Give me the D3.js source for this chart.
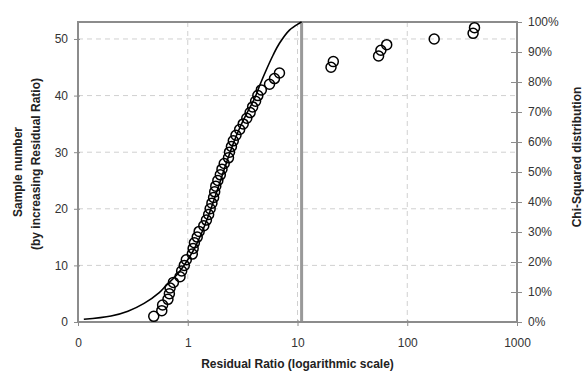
<!DOCTYPE html>
<html><head><meta charset="utf-8">
<script src="https://cdn.jsdelivr.net/npm/d3@7"></script>
<style>
body{margin:0;background:#fff;}
text{font-family:"Liberation Sans",Arial,sans-serif;}
</style></head>
<body><svg id="c" width="584" height="376"></svg>
<script>
// Sample number (by increasing residual ratio)
const sampleNumbers = d3.range(1, 53);
// Residual ratio of each sample
const residualRatios = [0.49,0.58,0.59,0.66,0.68,0.69,0.74,0.85,0.88,0.93,
  0.97,1.10,1.12,1.15,1.22,1.27,1.40,1.48,1.55,1.60,
  1.66,1.72,1.76,1.80,1.88,1.98,2.05,2.15,2.35,2.40,
  2.50,2.60,2.75,2.97,3.20,3.45,3.70,3.90,4.15,4.35,
  4.68,5.56,6.17,6.85,20.2,21.2,54.8,57.5,65,176,398,410];
// Chi-squared distribution curve (x, cumulative %)
const curveX = [0.113,0.20,0.285,0.40,0.55,0.64,0.80,0.95,1.15,1.35,1.6,1.9,2.2,2.6,3.0,3.5,4.06,4.6,5.19,6.0,6.85,8.45,10.4,10.9];
const curveP = [0.9,2.0,3.6,6.2,9.8,12.3,15.8,19.5,24.5,30,37,45,52,59.5,65,70,74.5,79.5,84,89,92.9,97.3,99.6,100];
const cutoff = [10.9];
const xTicks = [0.1,1,10,100,1000];
const xTickLabels = ["0","1","10","100","1000"];
const yTicks = [0,10,20,30,40,50];
const pTicks = [0,10,20,30,40,50,60,70,80,90,100];

const svg = d3.select("#c");
const L=78,R=517,T=22,B=322;
const x = d3.scaleLog().domain([0.1,1000]).range([L,R]);
const y = d3.scaleLinear().domain([0,53]).range([B,T]);
const yp = d3.scaleLinear().domain([0,100]).range([B,T]);

// grid
const g = svg.append("g");
g.selectAll(".hg").data(yTicks.filter(d=>d>0)).enter().append("line")
 .attr("x1",L).attr("x2",R).attr("y1",d=>y(d)).attr("y2",d=>y(d))
 .attr("stroke","#d0d0d0").attr("stroke-dasharray","5,4");
g.selectAll(".vg").data([1,10,100]).enter().append("line")
 .attr("y1",T).attr("y2",B).attr("x1",d=>x(d)).attr("x2",d=>x(d))
 .attr("stroke","#d0d0d0").attr("stroke-dasharray","5,4");

// cutoff line
svg.selectAll(".cut").data(cutoff).enter().append("line")
 .attr("x1",d=>x(d)).attr("x2",d=>x(d)).attr("y1",T).attr("y2",B)
 .attr("stroke","#999").attr("stroke-width",3);

// frame
svg.append("rect").attr("x",L).attr("y",T).attr("width",R-L).attr("height",B-T)
 .attr("fill","none").attr("stroke","#8c8c8c").attr("stroke-width",2);

// axes
const ax = d3.axisBottom(x).tickValues(xTicks).tickFormat((d,i)=>xTickLabels[i]).tickSize(4).tickSizeOuter(0);
const axG = svg.append("g").attr("transform",`translate(0,${B})`).call(ax);
const ayG = svg.append("g").attr("transform",`translate(${L},0)`).call(d3.axisLeft(y).tickValues(yTicks).tickSize(4).tickSizeOuter(0));
const apG = svg.append("g").attr("transform",`translate(${R},0)`).call(d3.axisRight(yp).tickValues(pTicks).tickFormat(d=>d+"%").tickSize(4).tickSizeOuter(0));
[axG,ayG,apG].forEach(a=>{
  a.select(".domain").remove();
  a.selectAll("text").attr("font-size",12).attr("fill","#333").attr("font-family","Liberation Sans, Arial, sans-serif");
  a.selectAll(".tick line").attr("stroke","#8c8c8c");
});
axG.selectAll(".tick line").attr("y1",-2).attr("y2",4);
axG.selectAll("text").attr("y",16);
ayG.selectAll(".tick line").attr("x1",2).attr("x2",-4);
ayG.selectAll("text").attr("x",-10);
apG.selectAll(".tick line").attr("x1",-6).attr("x2",5);
apG.selectAll("text").attr("x",11);

// curve
const pts = curveX.map((d,i)=>[d,curveP[i]]);
svg.append("path").datum(pts)
 .attr("d",d3.line().x(d=>x(d[0])).y(d=>yp(d[1])).curve(d3.curveCatmullRom.alpha(0.5)))
 .attr("fill","none").attr("stroke","#000").attr("stroke-width",1.6);

// points
svg.selectAll(".pt").data(sampleNumbers).enter().append("circle")
 .attr("cx",(d,i)=>x(residualRatios[i])).attr("cy",d=>y(d)).attr("r",5)
 .attr("fill","none").attr("stroke","#000").attr("stroke-width",1.5);

// titles
svg.append("text").attr("x",(L+R)/2).attr("y",368).attr("text-anchor","middle")
 .attr("font-size",12).attr("font-weight","bold").attr("fill","#222").text("Residual Ratio (logarithmic scale)");
svg.append("text").attr("transform","translate(22,172) rotate(-90)").attr("text-anchor","middle")
 .attr("font-size",12).attr("font-weight","bold").attr("fill","#222").text("Sample number");
svg.append("text").attr("transform","translate(40,164) rotate(-90)").attr("text-anchor","middle")
 .attr("font-size",12).attr("font-weight","bold").attr("fill","#222").text("(by increasing Residual Ratio)");
svg.append("text").attr("transform","translate(581,157) rotate(-90)").attr("text-anchor","middle")
 .attr("font-size",12).attr("font-weight","bold").attr("fill","#222").text("Chi-Squared distribution");
</script></body></html>
